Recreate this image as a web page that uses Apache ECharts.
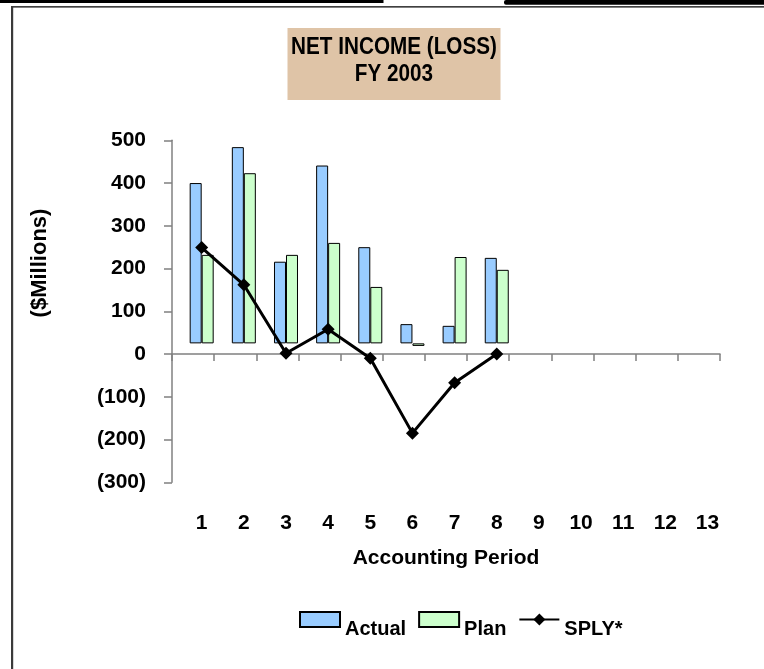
<!DOCTYPE html>
<html>
<head>
<meta charset="utf-8">
<title>Net Income (Loss) FY 2003</title>
<script src="https://cdn.jsdelivr.net/npm/echarts@6/dist/echarts.min.js"></script>
<style>
  html, body { margin: 0; padding: 0; background: #fff; }
  #chart { width: 764px; height: 669px; }
</style>
</head>
<body>
<div id="chart"></div>
<script>
// Accounting periods on the category axis
const periods = ['1', '2', '3', '4', '5', '6', '7', '8', '9', '10', '11', '12', '13'];

// Net income by period, $ millions
const actual = [400, 484, 216, 441, 250, 70, 66, 225];
const plan = [232, 423, 232, 260, 157, 19, 227, 197];
// Same period last year
const sply = [249, 162, 2, 58, -10, -185, -67, 0];

// Value-axis scale
const yMin = -300;
const yMax = 500;
const yStep = 100;

// Columns float on a common baseline above zero
const barBase = 25;

const FONT = '"Liberation Sans Narrow", "Arial Narrow", "Liberation Sans", Arial, sans-serif';
const txt = (size) => ({ fontFamily: FONT, fontWeight: 'bold', fontSize: size, color: '#000' });

const chart = echarts.init(document.getElementById('chart'), null, { renderer: 'canvas' });

const fmtMoney = (v) => (v < 0 ? '(' + Math.abs(v) + ')' : String(v));

function floatingBar(name, stack, values, color) {
  return [
    {
      type: 'bar', stack: stack, stackStrategy: 'all', silent: true,
      xAxisIndex: 0, yAxisIndex: 0, barWidth: 12, barGap: '0%',
      data: values.map(() => barBase),
      itemStyle: { color: 'rgba(0,0,0,0)', borderWidth: 0 }
    },
    {
      name: name, type: 'bar', stack: stack, stackStrategy: 'all',
      xAxisIndex: 0, yAxisIndex: 0, barWidth: 12, barGap: '0%',
      data: values.map((v) => v - barBase),
      itemStyle: { color: color, borderColor: '#000', borderWidth: 1 }
    }
  ];
}

function label(text, x, y, size, extra) {
  return Object.assign({
    type: 'text', x: x, y: y, silent: true,
    style: { text: text, align: 'center', verticalAlign: 'middle', fill: '#000', fontFamily: FONT, fontWeight: 'bold', fontSize: size }
  }, extra || {});
}

const option = {
  animation: false,
  backgroundColor: '#fff',
  grid: [
    { left: 180.6, top: 140.3, width: 548, height: 342 },
    { left: 172, top: 140.3, width: 548, height: 342 }
  ],
  xAxis: [
    {
      gridIndex: 0, type: 'category', data: periods, boundaryGap: true, position: 'bottom',
      axisLine: { show: false, onZero: false }, axisTick: { show: false },
      axisLabel: Object.assign({ margin: 30, interval: 0 }, txt(21))
    },
    {
      gridIndex: 1, type: 'category', data: periods, boundaryGap: true,
      axisLine: { onZero: true, lineStyle: { color: '#808080', width: 1.5 } },
      axisTick: { show: true, length: 7, interval: 0, lineStyle: { color: '#808080', width: 1.5 } },
      axisLabel: { show: false }
    }
  ],
  yAxis: [
    { gridIndex: 0, type: 'value', min: yMin, max: yMax, interval: yStep, show: false },
    {
      gridIndex: 1, type: 'value', min: yMin, max: yMax, interval: yStep,
      axisLine: { show: true, lineStyle: { color: '#808080', width: 1.5 } },
      axisTick: { show: true, length: 8, lineStyle: { color: '#808080', width: 1.5 } },
      splitLine: { show: false },
      axisLabel: Object.assign({ margin: 26, formatter: fmtMoney }, txt(21))
    }
  ],
  legend: {
    left: 294, top: 606,
    itemWidth: 40, itemHeight: 15, itemGap: 12,
    data: [
      { name: 'Actual', icon: 'rect' },
      { name: 'Plan', icon: 'rect' },
      { name: 'SPLY*' }
    ],
    formatter: (name) => '{t|' + name + '}',
    textStyle: {
      rich: { t: Object.assign({ padding: [19, 0, 0, 0] }, txt(20)) }
    }
  },
  series: [
    ...floatingBar('Actual', 'actual', actual, '#99CCFF'),
    ...floatingBar('Plan', 'plan', plan, '#CCFFCC'),
    {
      name: 'SPLY*', type: 'line', xAxisIndex: 0, yAxisIndex: 0,
      data: sply, symbol: 'diamond', symbolSize: 13,
      lineStyle: { color: '#000', width: 3 },
      itemStyle: { color: '#000' }, z: 5
    }
  ],
  graphic: [
    // page frame
    { type: 'rect', shape: { x: 0, y: 0, width: 383.5, height: 3 }, style: { fill: '#000' }, silent: true },
    { type: 'rect', shape: { x: 504, y: 0, width: 260, height: 4.7, r: [2, 0, 0, 2] }, style: { fill: '#000' }, silent: true },
    { type: 'rect', shape: { x: 11, y: 6.2, width: 753, height: 1.2 }, style: { fill: '#000' }, silent: true },
    { type: 'rect', shape: { x: 11, y: 6.2, width: 2.2, height: 663 }, style: { fill: '#3a3a3a' }, silent: true },
    // title block
    { type: 'rect', shape: { x: 287.5, y: 28, width: 213, height: 72 }, style: { fill: '#DFC4A7' }, silent: true },
    label('NET INCOME (LOSS)', 394, 48, 23, { scaleX: 0.9 }),
    label('FY 2003', 394, 75, 23, { scaleX: 0.9 }),
    // axis titles
    label('($Millions)', 40, 263, 22, { rotation: Math.PI / 2 }),
    label('Accounting Period', 446, 558, 21)
  ]
};

chart.setOption(option);
</script>
</body>
</html>
